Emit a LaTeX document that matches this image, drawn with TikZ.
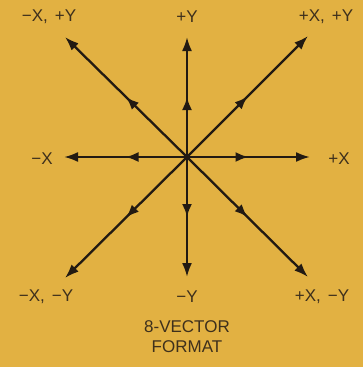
\documentclass[tikz,border=0pt]{standalone}
\usepackage{fontspec}
\setsansfont{Liberation Sans}
\usetikzlibrary{positioning,arrows.meta,decorations.markings}
\definecolor{gold}{RGB}{226,177,66}
\definecolor{ink}{RGB}{34,26,18}
\definecolor{labelink}{RGB}{62,48,28}

\begin{document}
\begin{tikzpicture}[x=1pt, y=-1pt,
  font=\sffamily\fontsize{17}{20}\selectfont,
  lbl/.style={text=labelink, inner sep=1pt, align=center},
  vec/.style={draw=ink, line width=2.3pt, -{Latex[length=14pt,width=10pt]},
              postaction={decorate},
              decoration={markings, mark=at position 0.5 with
                {\arrow{Latex[length=13pt,width=10pt]}}}}
]
\fill[gold] (0,0) rectangle (363,367);

% centre and arrow ends
\coordinate (o)  at (187,157);
\coordinate (n)  at (187,37);
\coordinate (s)  at (187,277);
\coordinate (e)  at (310,157);
\coordinate (w)  at (64,157);
\coordinate (ne) at (308,36);
\coordinate (nw) at (65,37);
\coordinate (se) at (308,277);
\coordinate (sw) at (65,278);

\draw[vec] (o) -- (n);
\draw[vec] (o) -- (s);
\draw[vec] (o) -- (e);
\draw[vec] (o) -- (w);
\draw[vec] (o) -- (ne);
\draw[vec] (o) -- (nw);
\draw[vec] (o) -- (se);
\draw[vec] (o) -- (sw);
\fill[ink] (o) circle (3pt);

% labels
\node[lbl] (lnw) at (49,17)  {−X,\hspace{7pt}+Y};
\node[lbl] (ln)  at (187,17) {+Y};
\node[lbl] (lne) at (326,17) {+X,\hspace{7pt}+Y};
\node[lbl] (lw)  at (42,159) {−X};
\node[lbl] (le)  at (339,159) {+X};
\node[lbl] (lsw) at (46,297) {−X,\hspace{7pt}−Y};
\node[lbl] (ls)  at (187,297) {−Y};
\node[lbl] (lse) at (322,297) {+X,\hspace{7pt}−Y};
\node[lbl] (cap) at (187,337) {8-VECTOR\\FORMAT};
\end{tikzpicture}
\end{document}
